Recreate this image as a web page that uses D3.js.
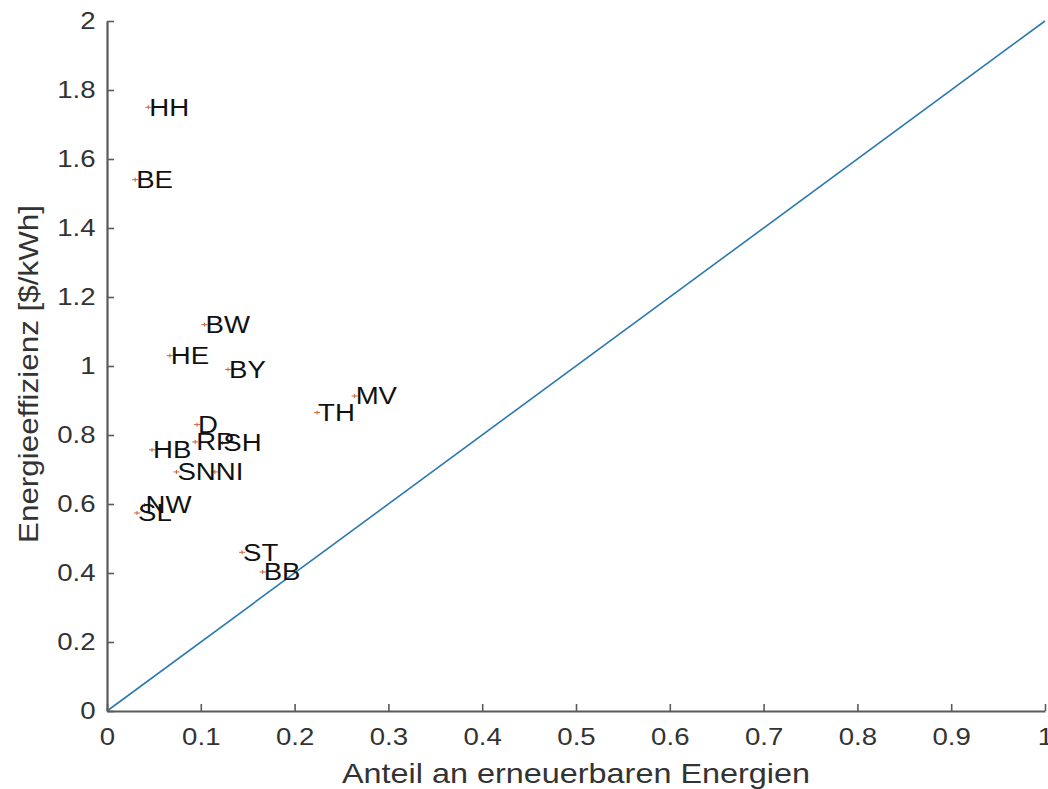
<!DOCTYPE html>
<html><head><meta charset="utf-8">
<script src="https://cdn.jsdelivr.net/npm/d3@7"></script>
<style>body{margin:0;background:#fff}svg{display:block}</style>
</head><body>
<svg id="c" width="1048" height="789"></svg>
<script>
const labels = ["HH","BE","BW","HE","BY","TH","MV","D","RP","SH","HB","SN","NI","NW","SL","ST","BB"];
const shareRenewable = [0.044,0.030,0.104,0.067,0.129,0.224,0.264,0.096,0.094,0.123,0.048,0.074,0.115,0.040,0.032,0.144,0.166];
const efficiency = [1.75,1.54,1.12,1.03,0.99,0.865,0.913,0.83,0.78,0.777,0.757,0.693,0.693,0.597,0.574,0.46,0.403];
const refLineX = [0,1];
const refLineY = [0,2];
const xTicks = [0,0.1,0.2,0.3,0.4,0.5,0.6,0.7,0.8,0.9,1];
const yTicks = [0,0.2,0.4,0.6,0.8,1,1.2,1.4,1.6,1.8,2];

const svg = d3.select("#c");
const x = d3.scaleLinear().domain([0,1]).range([107,1045]);
const y = d3.scaleLinear().domain([0,2]).range([711,21]);
const axisColor = "#5a5a5a";
const font = "'Liberation Sans', Arial, sans-serif";
const stretch = 1.15;

// reference line
svg.append("path")
  .datum(refLineX.map((d,i)=>[d,refLineY[i]]))
  .attr("d", d3.line().x(d=>x(d[0])).y(d=>y(d[1])))
  .attr("stroke","#2a7ab0").attr("stroke-width",1.6).attr("fill","none");

// axes
const xAxis = svg.append("g").attr("transform","translate(0,711)")
  .call(d3.axisBottom(x).tickValues(xTicks).tickSizeInner(-7).tickSizeOuter(0).tickPadding(17).tickFormat(d3.format("")));
const yAxis = svg.append("g").attr("transform","translate(107,0)")
  .call(d3.axisLeft(y).tickValues(yTicks).tickSizeInner(-7).tickSizeOuter(0).tickPadding(10).tickFormat(d3.format("")));
[xAxis,yAxis].forEach(g=>{
  g.select(".domain").attr("stroke",axisColor).attr("stroke-width",2.2);
  g.selectAll(".tick line").attr("stroke",axisColor).attr("stroke-width",1.6);
  g.selectAll(".tick text").attr("fill","#333").attr("font-size","24px").attr("font-family",font)
    .attr("transform",`scale(${stretch},1)`);
});
// keep x tick labels centered on ticks after horizontal stretch
xAxis.selectAll(".tick text").attr("transform",null).each(function(){
  d3.select(this).attr("transform",`scale(${stretch},1)`);
});

// markers
const pts = labels.map((l,i)=>({l, x:shareRenewable[i], y:efficiency[i]}));
const m = svg.append("g");
pts.forEach(p=>{
  const cx = x(p.x), cy = y(p.y);
  m.append("line").attr("x1",cx-3).attr("x2",cx+3).attr("y1",cy).attr("y2",cy).attr("stroke","#c8643c").attr("stroke-width",1);
  m.append("line").attr("x1",cx).attr("x2",cx).attr("y1",cy-2).attr("y2",cy+2).attr("stroke","#c8643c").attr("stroke-width",1);
});
// labels
svg.append("g").selectAll("text").data(pts).join("text")
  .attr("transform",d=>`translate(${x(d.x)+1},${y(d.y)}) scale(${stretch},1)`)
  .attr("dominant-baseline","central")
  .attr("font-family",font).attr("font-size","24px").attr("fill","#111")
  .text(d=>d.l);

// axis titles
svg.append("text").attr("x",576).attr("y",783).attr("text-anchor","middle")
  .attr("font-family",font).attr("font-size","28px").attr("fill","#333")
  .attr("textLength",468).attr("lengthAdjust","spacingAndGlyphs")
  .text("Anteil an erneuerbaren Energien");
svg.append("text").attr("transform","translate(38,374) rotate(-90)").attr("text-anchor","middle")
  .attr("font-family",font).attr("font-size","27px").attr("fill","#333")
  .attr("textLength",338).attr("lengthAdjust","spacingAndGlyphs")
  .text("Energieeffizienz [$/kWh]");
</script>
</body></html>
